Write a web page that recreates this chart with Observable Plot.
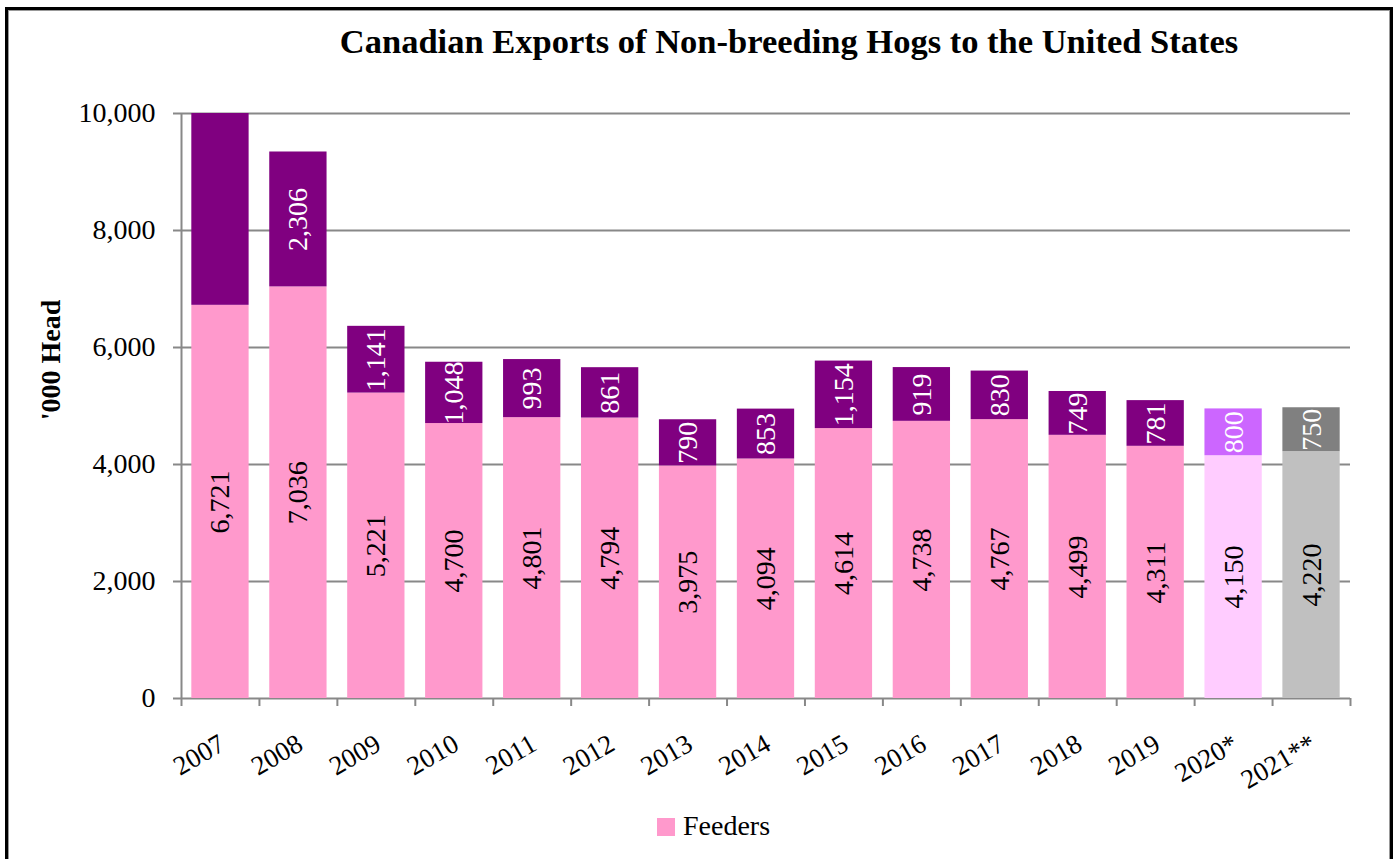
<!DOCTYPE html>
<html>
<head>
<meta charset="utf-8">
<script src="https://cdn.jsdelivr.net/npm/d3@7"></script>
<script src="https://cdn.jsdelivr.net/npm/@observablehq/plot@0.6"></script>
<style>
  html, body { margin: 0; padding: 0; background: #fff; overflow: hidden; }
  #wrap { position: relative; width: 1395px; height: 859px; overflow: hidden; font-family: "Liberation Serif", "Times New Roman", Times, serif; }
  #border { position: absolute; left: 5px; top: 7px; width: 1382px; height: 900px; border: 3px solid #000; box-shadow: inset 0 0 0 1px #999; }
  #title { position: absolute; left: 183px; width: 1212px; top: 24px; text-align: center; font-weight: bold; font-size: 34.5px; line-height: 34px; white-space: nowrap; }
  #ylabel { position: absolute; left: 51px; top: 360px; width: 0; height: 0; }
  #ylabel span { position: absolute; left: 0; top: 0; transform: translate(-50%, -50%) rotate(-90deg); font-weight: bold; font-size: 28px; line-height: 28px; white-space: nowrap; }
  #chart { position: absolute; left: 0; top: 0; }
  #legend { position: absolute; left: 657px; top: 812px; height: 30px; font-size: 28px; line-height: 28px; white-space: nowrap; }
  #legend .sw { position: absolute; left: 0; top: 6px; width: 18px; height: 18px; }
  #legend .lb { position: absolute; left: 26px; top: 0; }
</style>
</head>
<body>
<div id="wrap">
  <div id="border"></div>
  <div id="chart"></div>
  <div id="title">Canadian Exports of Non-breeding Hogs to the United States</div>
  <div id="ylabel"><span>'000 Head</span></div>
  <div id="legend"><span class="sw"></span><span class="lb"></span></div>
</div>
<script>
// ---- data ----
const years = ["2007","2008","2009","2010","2011","2012","2013","2014","2015","2016","2017","2018","2019","2020*","2021**"];
const feeders   = [6721, 7036, 5221, 4700, 4801, 4794, 3975, 4094, 4614, 4738, 4767, 4499, 4311, 4150, 4220];
const slaughter = [3300, 2306, 1141, 1048,  993,  861,  790,  853, 1154,  919,  830,  749,  781,  800,  750];
const yTicks = [0, 2000, 4000, 6000, 8000, 10000];
const seriesNames = ["Feeders", "Slaughter"];
const legendNames = ["Feeders"];

// ---- styles ----
const feederColors    = years.map((y, i) => i === 13 ? "#FFCCFF" : i === 14 ? "#C0C0C0" : "#FF99CC");
const slaughterColors = years.map((y, i) => i === 13 ? "#CC66FF" : i === 14 ? "#808080" : "#800080");
const labelColors = {Feeders: "#000000", Slaughter: "#FFFFFF"};
const FONT = "'Liberation Serif', 'Times New Roman', Times, serif";

const yMax = 10000;
const rows = years.flatMap((yr, i) => [
  {year: yr, part: seriesNames[0], value: feeders[i], color: feederColors[i], total: feeders[i] + slaughter[i]},
  {year: yr, part: seriesNames[1], value: slaughter[i], color: slaughterColors[i], total: feeders[i] + slaughter[i]}
]);

const W = 1395, H = 859, mL = 181, mR = 45, mT = 113, mB = 161;
const step = (W - mL - mR) / years.length;
const barW = 57.3;
const inset = (step - barW) / 2;
const grey = "#888888";
const fmt = d3.format(",");

const chart = Plot.plot({
  width: W, height: H,
  marginLeft: mL, marginRight: mR, marginTop: mT, marginBottom: mB,
  x: {domain: years, padding: 0, round: false, axis: null},
  y: {domain: [0, yMax], axis: null},
  color: {type: "identity"},
  style: {fontFamily: FONT, fontSize: "28px", background: "transparent", color: "#000", overflow: "visible"},
  marks: [
    Plot.ruleY(yTicks, {stroke: grey, strokeWidth: 2, insetLeft: -8}),
    Plot.axisY({ticks: yTicks, tickSize: 0, tickPadding: 26, tickFormat: fmt, label: null, fontSize: 28, fontFamily: FONT, fill: "#000"}),
    Plot.barY(rows, {x: "year", y: "value", fill: "color", insetLeft: inset, insetRight: inset, clip: true}),
    Plot.ruleX([years[0]], {x: d => d, dx: -step / 2, y1: 0, y2: yMax, stroke: grey, strokeWidth: 2}),
    Plot.ruleX(years, {x: d => d, dx: -step / 2, y1: 0, y2: 0, insetBottom: -8, stroke: grey, strokeWidth: 2}),
    Plot.ruleX([years[years.length - 1]], {x: d => d, dx: step / 2, y1: 0, y2: 0, insetBottom: -8, stroke: grey, strokeWidth: 2}),
    Plot.text(years, {x: d => d, y: 0, text: d => d, dx: 2, dy: 43, rotate: -30, textAnchor: "end", lineAnchor: "middle", fontSize: 27, fontFamily: FONT, fill: "#000"}),
    Plot.text(rows, Plot.stackY({
      filter: d => d.part === seriesNames[0] || d.total <= yMax,
      x: "year", y: "value",
      text: d => fmt(d.value),
      fill: d => labelColors[d.part],
      rotate: -90, fontSize: 28, fontFamily: FONT
    }))
  ]
});
document.getElementById("chart").appendChild(chart);

document.querySelector("#legend .sw").style.background = feederColors[0];
document.querySelector("#legend .lb").textContent = legendNames[0];
</script>
</body>
</html>
